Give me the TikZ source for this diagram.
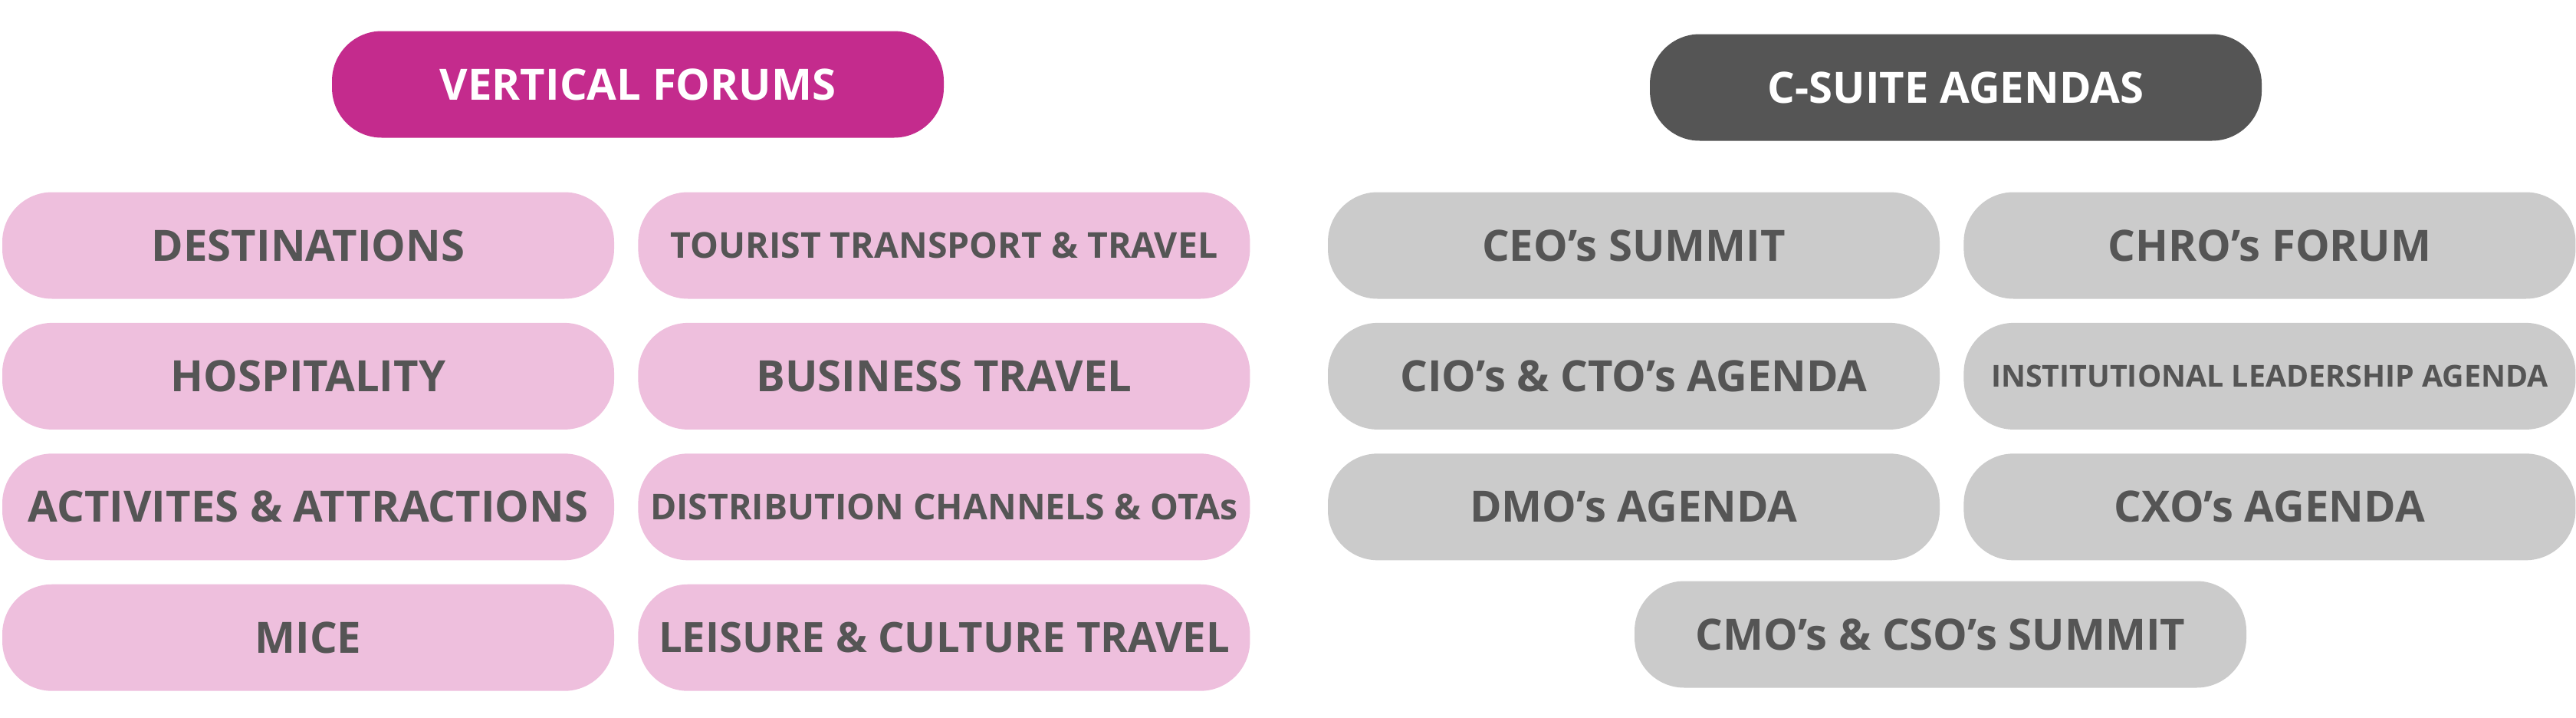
\documentclass[tikz,border=0pt]{standalone}
\usepackage{fontspec}
\setmainfont{Open Sans}
\usetikzlibrary{positioning}
\definecolor{forumColor}{RGB}{196, 43, 141}
\definecolor{forumFill}{RGB}{238, 191, 221}
\definecolor{suiteColor}{RGB}{85, 85, 85}
\definecolor{suiteFill}{RGB}{203, 203, 203}
\definecolor{labelColor}{RGB}{85, 85, 85}
\tikzset{
    pill_box/.style={
        rectangle,
        rounded corners=0.65cm,
        minimum width=7.98cm,
        minimum height=1.39cm,
        inner sep=0.05cm,
        font=\fontsize{16}{19}\selectfont\bfseries,
        text=labelColor
    },
    forum_head/.style={
        pill_box,
        fill=forumColor,
        text=white
    },
    forum_item/.style={
        pill_box,
        fill=forumFill
    },
    suite_head/.style={
        pill_box,
        fill=suiteColor,
        text=white
    },
    suite_item/.style={
        pill_box,
        fill=suiteFill
    },
    mid_text/.style={
        font=\fontsize{15.5}{18}\selectfont\bfseries
    },
    small_text/.style={
        font=\fontsize{13.2}{16}\selectfont\bfseries
    },
    tiny_text/.style={
        font=\fontsize{11.2}{14}\selectfont\bfseries
    }
}

\begin{document}
\begin{tikzpicture}[node distance=0.3cm]
    \useasboundingbox (0,0) rectangle (33.6,-9.35);

    % vertical forums
    \node[forum_head] (vf) at (8.32,-1.10) {VERTICAL FORUMS};
    \node[forum_item] (dest) at (4.02,-3.20) {DESTINATIONS};
    \node[forum_item, right=of dest, small_text] (tour) {TOURIST TRANSPORT \& TRAVEL};
    \node[forum_item, below=of dest] (hosp) {HOSPITALITY};
    \node[forum_item, right=of hosp] (busi) {BUSINESS TRAVEL};
    \node[forum_item, below=of hosp] (acti) {ACTIVITES \& ATTRACTIONS};
    \node[forum_item, right=of acti, small_text] (dist) {DISTRIBUTION CHANNELS \& OTAs};
    \node[forum_item, below=of acti] (mice) {MICE};
    \node[forum_item, right=of mice, mid_text] (leis) {LEISURE \& CULTURE TRAVEL};

    % c-suite agendas
    \node[suite_head] (cs) at (25.51,-1.14) {C-SUITE AGENDAS};
    \node[suite_item] (ceo) at (21.31,-3.20) {CEO’s SUMMIT};
    \node[suite_item, right=of ceo] (chro) {CHRO’s FORUM};
    \node[suite_item, below=of ceo] (cio) {CIO’s \& CTO’s AGENDA};
    \node[suite_item, right=of cio, tiny_text] (inst) {INSTITUTIONAL LEADERSHIP AGENDA};
    \node[suite_item, below=of cio] (dmo) {DMO’s AGENDA};
    \node[suite_item, right=of dmo] (cxo) {CXO’s AGENDA};
    \node[suite_item] (cmo) at (25.31,-8.27) {CMO’s \& CSO’s SUMMIT};
\end{tikzpicture}
\end{document}
